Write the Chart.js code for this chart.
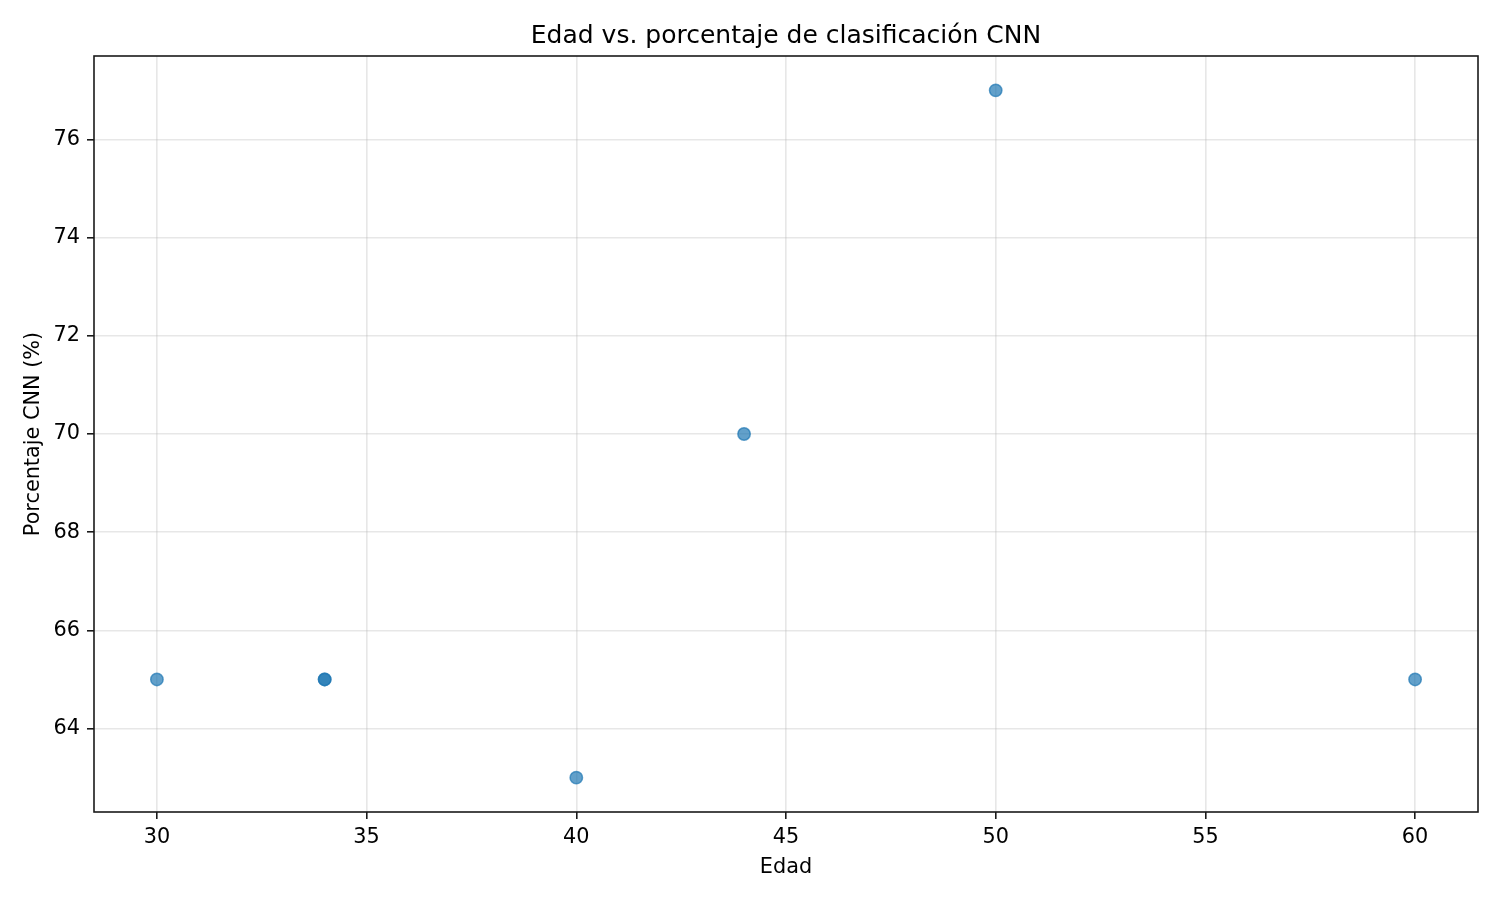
<!DOCTYPE html>
<html>
<head>
<meta charset="utf-8">
<script src="https://cdn.jsdelivr.net/npm/chart.js@4/dist/chart.umd.min.js"></script>
<style>
  body { margin: 0; background: #fff; }
  #wrap { width: 1500px; height: 900px; }
</style>
</head>
<body>
<div id="wrap"><canvas id="myChart" width="1500" height="900"></canvas></div>
<script>
// datos
var edades = [30, 34, 34, 40, 44, 50, 60];
var porcentajes = [65, 65, 65, 63, 70, 77, 65];
var xTicks = [30, 35, 40, 45, 50, 55, 60];
var yTicks = [64, 66, 68, 70, 72, 74, 76];

var fuente = 'DejaVu Sans';

var puntos = [];
for (var i = 0; i < edades.length; i++) {
	puntos.push({ x: edades[i], y: porcentajes[i] });
}

// marco de los ejes (4 lados)
var marco = {
	id: 'marco',
	afterDatasetsDraw: function(chart) {
		var a = chart.chartArea, ctx = chart.ctx;
		ctx.save();
		ctx.strokeStyle = '#1a1a1a';
		ctx.lineWidth = 1.6;
		ctx.strokeRect(a.left, a.top, a.right - a.left, a.bottom - a.top);
		ctx.restore();
	}
};

var ctx = document.getElementById('myChart').getContext('2d');
var myChart = new Chart(ctx, {
	type: 'scatter',
	data: {
		datasets: [{
			label: 'CNN',
			data: puntos,
			backgroundColor: 'rgba(31, 119, 180, 0.7)',
			borderColor: 'rgba(31, 119, 180, 0.7)',
			borderWidth: 1.5,
			pointRadius: 6.2,
			pointHoverRadius: 6.2
		}]
	},
	options: {
		responsive: false,
		animation: false,
		devicePixelRatio: 1,
		layout: { padding: { left: 0, right: 22, top: 0, bottom: 0 } },
		plugins: {
			legend: { display: false },
			tooltip: { enabled: false },
			title: {
				display: true,
				fullSize: false,
				text: 'Edad vs. porcentaje de clasificación CNN',
				color: '#000',
				font: { family: fuente, size: 25, weight: 'normal' },
				padding: { top: 21, bottom: 5 }
			}
		},
		scales: {
			x: {
				type: 'linear',
				min: 28.5,
				max: 61.5,
				afterBuildTicks: function(scale) {
					scale.ticks = xTicks.map(function(v) { return { value: v }; });
				},
				afterFit: function(scale) { scale.height = 88; },
				ticks: { color: '#000', font: { family: fuente, size: 20.8 }, padding: 6, maxRotation: 0 },
				grid: { color: 'rgba(176,176,176,0.3)', lineWidth: 1.6, tickLength: 7, tickColor: '#1a1a1a', tickWidth: 1.6 },
				border: { display: false },
				title: {
					display: true,
					text: 'Edad',
					color: '#000',
					font: { family: fuente, size: 20.8 },
					padding: { top: 0, bottom: 20 }
				}
			},
			y: {
				type: 'linear',
				min: 62.3,
				max: 77.7,
				afterBuildTicks: function(scale) {
					scale.ticks = yTicks.map(function(v) { return { value: v }; });
				},
				afterFit: function(scale) { scale.width = 94; },
				ticks: { color: '#000', font: { family: fuente, size: 20.8 }, padding: 7 },
				grid: { color: 'rgba(176,176,176,0.3)', lineWidth: 1.6, tickLength: 7, tickColor: '#1a1a1a', tickWidth: 1.6 },
				border: { display: false },
				title: {
					display: true,
					text: 'Porcentaje CNN (%)',
					color: '#000',
					font: { family: fuente, size: 20.8 },
					padding: { top: 21, bottom: 0 }
				}
			}
		}
	},
	plugins: [marco]
});
</script>
</body>
</html>
